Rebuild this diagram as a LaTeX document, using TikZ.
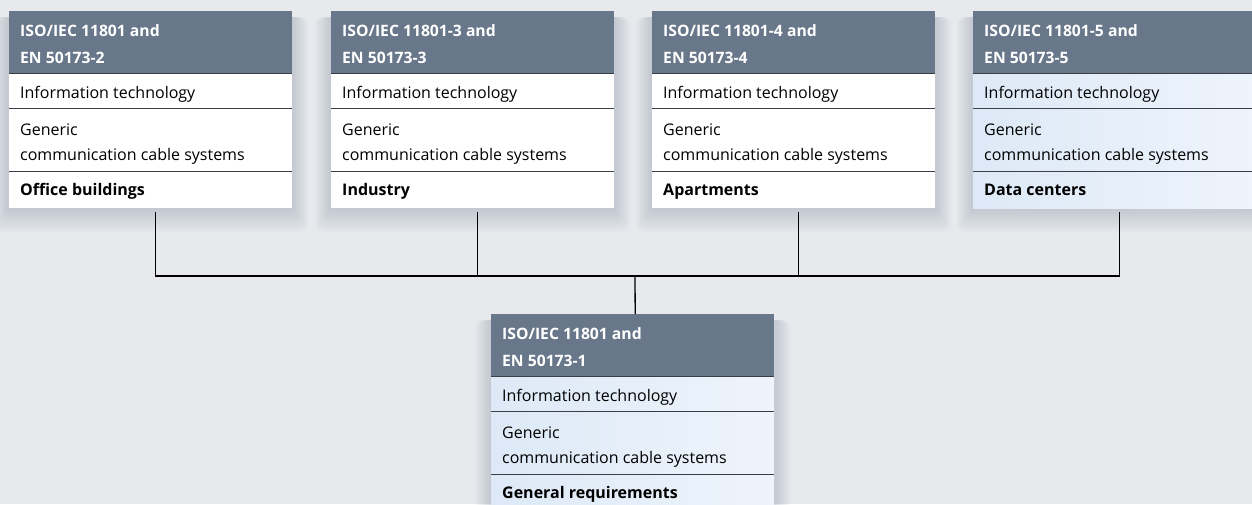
\documentclass[tikz,border=0pt]{standalone}
\usepackage{fontspec}
\setmainfont{Open Sans}
\usetikzlibrary{positioning}
\definecolor{HeadSlate}{HTML}{687789}
\definecolor{PageGray}{HTML}{E7E9ED}
\definecolor{RuleDark}{HTML}{3A3F46}
\definecolor{IceBlue}{HTML}{DDE9F7}
\definecolor{IceLight}{HTML}{EEF4FB}
\definecolor{ShadowTint}{HTML}{5A6B85}

\begin{document}
\begin{tikzpicture}[x=1pt,y=-1pt,
    panel/.style={anchor=north west,minimum width=283pt,minimum height=197pt,inner sep=0pt},
    whitepanel/.style={panel,fill=white},
    bluepanel/.style={panel,left color=IceBlue,right color=IceLight},
    softshade/.style={ShadowTint,opacity=0.032},
    headtxt/.style={anchor=north west,inner sep=0pt,align=left,text=white,font=\fontsize{15.7}{27}\selectfont\bfseries},
    rowtxt/.style={anchor=north west,inner sep=0pt,align=left,font=\fontsize{16}{25}\selectfont},
    sepline/.style={RuleDark,line width=0.9pt},
    wire/.style={black,line width=1.3pt}]
  \fill[PageGray] (0,0) rectangle (1252,504);
  \useasboundingbox (0,0) rectangle (1252,504);
  \clip (0,0) rectangle (1252,504);
  % standard boxes
  \foreach \nm/\xx/\ytop/\partno/\en/\app/\look in {a/9/11//2/Office buildings/whitepanel,
      b/331/11/-3/3/Industry/whitepanel, c/652/11/-4/4/Apartments/whitepanel,
      d/973/11/-5/5/Data centers/bluepanel, e/491/314//1/General requirements/bluepanel}
  {
    \foreach \k in {1,...,8}
      \fill[softshade,rounded corners=\k pt] (\xx-2*\k,\ytop+6) rectangle (\xx+283+2*\k,\ytop+197+3*\k);
    \node[\look] (box\nm) at (\xx,\ytop) {};
    \fill[HeadSlate] (box\nm.north west) rectangle ++(283,62);
    \foreach \yy in {62,97,160}
      \draw[sepline] ([yshift=-\yy pt]box\nm.north west) -- ++(283,0);
    \node[headtxt] (hd\nm) at ([shift={(11,6.1)}]box\nm.north west) {\strut ISO/IEC 11801\partno{} and\\EN 50173-\en};
    \node[rowtxt] (it\nm) at ([shift={(11,69.5)}]box\nm.north west) {\strut Information technology};
    \node[rowtxt] (gc\nm) at ([shift={(11,106.5)}]box\nm.north west) {\strut Generic\\communication cable systems};
    \node[rowtxt,font=\fontsize{16}{25}\selectfont\bfseries] (sc\nm) at ([shift={(11,166.5)}]box\nm.north west) {\strut \app};
  }
  % connectors
  \coordinate (bus) at (635,276);
  \foreach \nm in {a,b,c,d}
    \draw[wire] ([xshift=4.5pt,yshift=-4pt]box\nm.south) |- (bus);
  \draw[wire] (bus) -- ([xshift=2.5pt]boxe.north);
\end{tikzpicture}
\end{document}
